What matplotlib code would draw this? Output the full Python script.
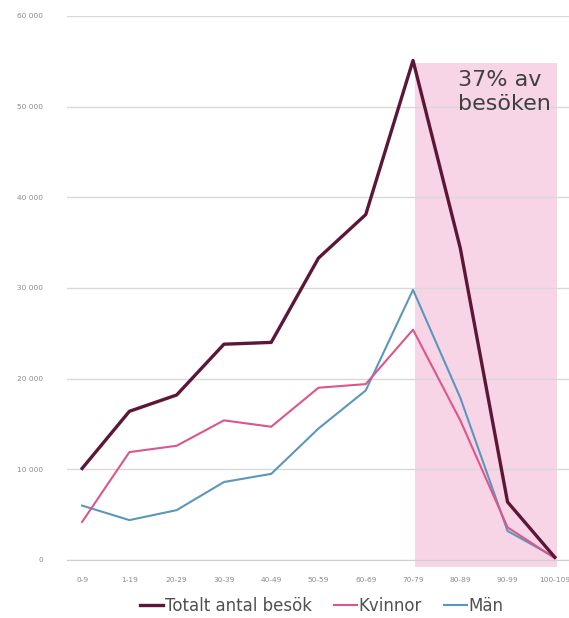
import matplotlib.pyplot as plt
from matplotlib.ticker import FuncFormatter

age_groups = ["0-9", "1-19", "20-29", "30-39", "40-49", "50-59",
              "60-69", "70-79", "80-89", "90-99", "100-109"]
total = [10100, 16400, 18200, 23800, 24000, 33300, 38100, 55100, 34400, 6400, 300]
kvinnor = [4200, 11900, 12600, 15400, 14700, 19000, 19400, 25400, 15400, 3600, 200]
man = [6000, 4400, 5500, 8600, 9500, 14500, 18700, 29800, 17900, 3200, 300]

y_ticks = [0, 10000, 20000, 30000, 40000, 50000, 60000]
highlight_from = "70-79"
highlight_text = "37% av\nbesöken"

W, H = 569, 618
fig = plt.figure(figsize=(W / 100, H / 100), dpi=100)
ax = fig.add_axes([67 / W, 1 - 560 / H, (W - 67) / W, (560 - 16) / H])

x = list(range(len(age_groups)))
start = age_groups.index(highlight_from)

# shaded region for the oldest age groups
ax.axvspan(start + 0.05, len(age_groups) - 1 + 0.05, ymin=-0.012, ymax=54800 / 60000,
           color="#f8d5e6", lw=0, zorder=0, clip_on=False)

ax.plot(x, man, color="#5b97bd", lw=1.5, zorder=3, label="Män")
ax.plot(x, kvinnor, color="#d9568e", lw=1.5, zorder=3, label="Kvinnor")
ax.plot(x, total, color="#5c1738", lw=2.4, zorder=4, label="Totalt antal besök")

ax.text(start + 0.95, 54000, highlight_text, fontsize=16, color="#3f3f3f",
        ha="left", va="top", linespacing=1.2, zorder=5)

ax.set_xlim(-0.32, len(age_groups) - 1 + 0.3)
ax.set_ylim(0, 60000)
ax.set_yticks(y_ticks)
ax.yaxis.set_major_formatter(FuncFormatter(lambda v, _: "0" if v == 0 else f"{int(v):,}".replace(",", " ")))
ax.set_xticks(x)
ax.set_xticklabels(age_groups)
ax.tick_params(axis="both", length=0, labelsize=5.3, colors="#8a8a8a", pad=12)
ax.tick_params(axis="y", pad=17)

ax.grid(axis="y", color="#d9d9d9", lw=1)
ax.set_axisbelow(True)
for side in ["top", "right", "left"]:
    ax.spines[side].set_visible(False)
ax.spines["bottom"].set_color("#cfcfcf")

handles, labels = ax.get_legend_handles_labels()
order = [2, 1, 0]
leg = fig.legend([handles[i] for i in order], [labels[i] for i in order],
                 loc="center", bbox_to_anchor=(322 / W, 1 - 606 / H), ncol=3,
                 frameon=False, fontsize=12, handlelength=1.4, handletextpad=0.1,
                 columnspacing=1.3, labelcolor="#505050")

fig.savefig("out.png", dpi=100, facecolor="white")
